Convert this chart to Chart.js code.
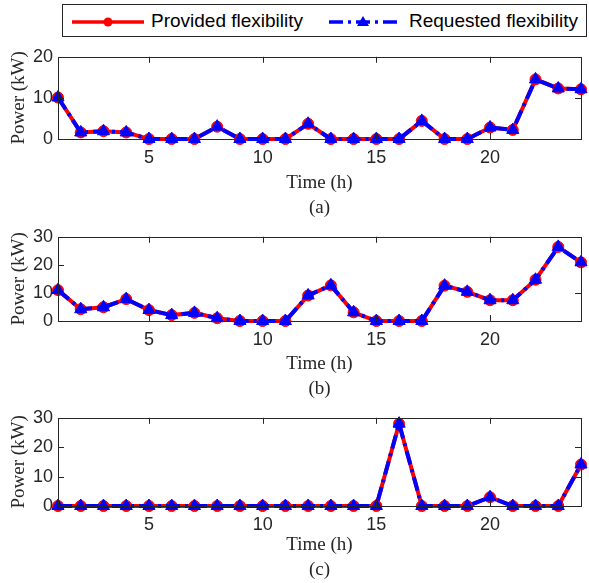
<!DOCTYPE html>
<html>
<head>
<meta charset="utf-8">
<script src="https://cdn.jsdelivr.net/npm/chart.js@4"></script>
<style>
  body { margin: 0; background: #fff; }
  #wrap { position: relative; width: 589px; height: 583px; }
  canvas { position: absolute; left: 0; }
  #legend {
    position: absolute; left: 62px; top: 4px; width: 523px; height: 31px;
    border: 1px solid #262626; font-family: 'Liberation Sans', Arial, sans-serif;
    font-size: 19px; color: #000;
  }
  #legend svg { position: absolute; top: 0; }
  #legend span { position: absolute; top: 5px; white-space: nowrap; }
</style>
</head>
<body>
<div id="wrap">
  <div id="legend">
    <svg style="left:8px" width="74" height="33">
      <line x1="1" y1="17" x2="73" y2="17" stroke="#ff0000" stroke-width="3.5"/>
      <circle cx="37" cy="17" r="4.5" fill="#ff0000"/>
    </svg>
    <span style="left:88px">Provided flexibility</span>
    <svg style="left:265px" width="72" height="33">
      <line x1="1" y1="17" x2="70" y2="17" stroke="#0000ff" stroke-width="3.5" stroke-dasharray="14 5 3 5"/>
      <polygon points="35,11 41,21 29,21" fill="#0000ff"/>
    </svg>
    <span style="left:346px">Requested flexibility</span>
  </div>
  <canvas id="panelA" width="589" height="180" style="top:41px"></canvas>
  <canvas id="panelB" width="589" height="181" style="top:221px"></canvas>
  <canvas id="panelC" width="589" height="181" style="top:402px"></canvas>
</div>
<script>
// data
const hours = [1,2,3,4,5,6,7,8,9,10,11,12,13,14,15,16,17,18,19,20,21,22,23,24];
const xTicks = [5, 10, 15, 20];

const providedA  = [10.1,1.6,1.9,1.6,0,0,0,3.0,0,0,0,3.7,0,0,0,0,4.4,0,0,2.8,2.2,14.5,12.3,12.1];
const requestedA = [10.1,1.6,1.9,1.6,0,0,0,3.0,0,0,0,3.7,0,0,0,0,4.4,0,0,2.8,2.2,14.5,12.3,12.1];

const providedB  = [11.0,4.2,4.9,7.8,3.9,2.1,2.9,1.0,0,0,0,9.1,12.7,3.1,0,0,0,12.6,10.4,7.4,7.4,14.7,26.4,20.9];
const requestedB = [11.0,4.2,4.9,7.8,3.9,2.1,2.9,1.0,0,0,0,9.1,12.7,3.1,0,0,0,12.6,10.4,7.4,7.4,14.7,26.4,20.9];

const providedC  = [0,0,0,0,0,0,0,0,0,0,0,0,0,0,0,28.0,0,0,0,3.0,0,0,0,14.1];
const requestedC = [0,0,0,0,0,0,0,0,0,0,0,0,0,0,0,28.0,0,0,0,3.0,0,0,0,14.1];

const axisColor = '#262626';

// matlab style box with ticks pointing inwards
const boxPlugin = {
  id: 'box',
  afterDraw(chart) {
    const ctx = chart.ctx;
    const a = chart.chartArea;
    const len = 6;
    ctx.save();
    ctx.strokeStyle = axisColor;
    ctx.lineWidth = 1;
    ctx.beginPath();
    chart.scales.x.ticks.forEach(t => {
      const px = Math.round(chart.scales.x.getPixelForValue(t.value)) + 0.5;
      ctx.moveTo(px, a.top); ctx.lineTo(px, a.top + len);
      ctx.moveTo(px, a.bottom); ctx.lineTo(px, a.bottom - len);
    });
    chart.scales.y.ticks.forEach(t => {
      const py = Math.round(chart.scales.y.getPixelForValue(t.value)) + 0.5;
      ctx.moveTo(a.left, py); ctx.lineTo(a.left + len, py);
      ctx.moveTo(a.right, py); ctx.lineTo(a.right - len, py);
    });
    ctx.stroke();
    ctx.strokeRect(Math.round(a.left) + 0.5, Math.round(a.top) + 0.5,
      Math.round(a.right - a.left), Math.round(a.bottom - a.top));
    ctx.restore();
  }
};

function makePanel(id, provided, requested, yMax, letter, padTop, xHeight) {
  const ctx = document.getElementById(id).getContext('2d');
  return new Chart(ctx, {
    type: 'line',
    data: {
      labels: hours,
      datasets: [{
        label: 'Requested flexibility',
        data: requested,
        borderColor: '#0000ff',
        backgroundColor: '#0000ff',
        borderWidth: 4,
        borderDash: [14, 5, 3, 5],
        pointStyle: 'triangle',
        pointRadius: 7,
        pointBorderWidth: 1,
        order: 0,
        clip: false
      }, {
        label: 'Provided flexibility',
        data: provided,
        borderColor: '#ff0000',
        backgroundColor: '#ff0000',
        borderWidth: 4,
        pointStyle: 'circle',
        pointRadius: 5.5,
        pointBorderWidth: 1,
        order: 1,
        clip: false
      }]
    },
    options: {
      responsive: false,
      animation: false,
      events: [],
      layout: { padding: { top: padTop, right: 4, left: 0, bottom: 0 } },
      plugins: { legend: { display: false }, tooltip: { enabled: false } },
      scales: {
        x: {
          type: 'linear',
          min: 1,
          max: 24,
          afterBuildTicks: s => { s.ticks = xTicks.map(v => ({ value: v })); },
          afterFit: s => { s.height = xHeight; },
          grid: { display: false, drawTicks: false },
          border: { display: false },
          ticks: { padding: 8, color: axisColor, font: { family: 'Liberation Sans', size: 18 } },
          title: {
            display: true,
            text: ['Time (h)', '(' + letter + ')'],
            color: axisColor,
            padding: 0,
            font: { family: 'Liberation Serif', size: 19, lineHeight: 1.35 }
          }
        },
        y: {
          min: 0,
          max: yMax,
          afterFit: s => { s.width = 58; },
          grid: { display: false, drawTicks: false },
          border: { display: false },
          ticks: { stepSize: 10, padding: 5, color: axisColor, font: { family: 'Liberation Sans', size: 18 } },
          title: {
            display: true,
            text: 'Power (kW)',
            color: axisColor,
            padding: { top: 8, bottom: 0 },
            font: { family: 'Liberation Serif', size: 19 }
          }
        }
      }
    },
    plugins: [boxPlugin]
  });
}

makePanel('panelA', providedA, requestedA, 20, 'a', 6, 82);
makePanel('panelB', providedB, requestedB, 30, 'b', 11, 81);
makePanel('panelC', providedC, requestedC, 30, 'c', 13, 77);
</script>
</body>
</html>
